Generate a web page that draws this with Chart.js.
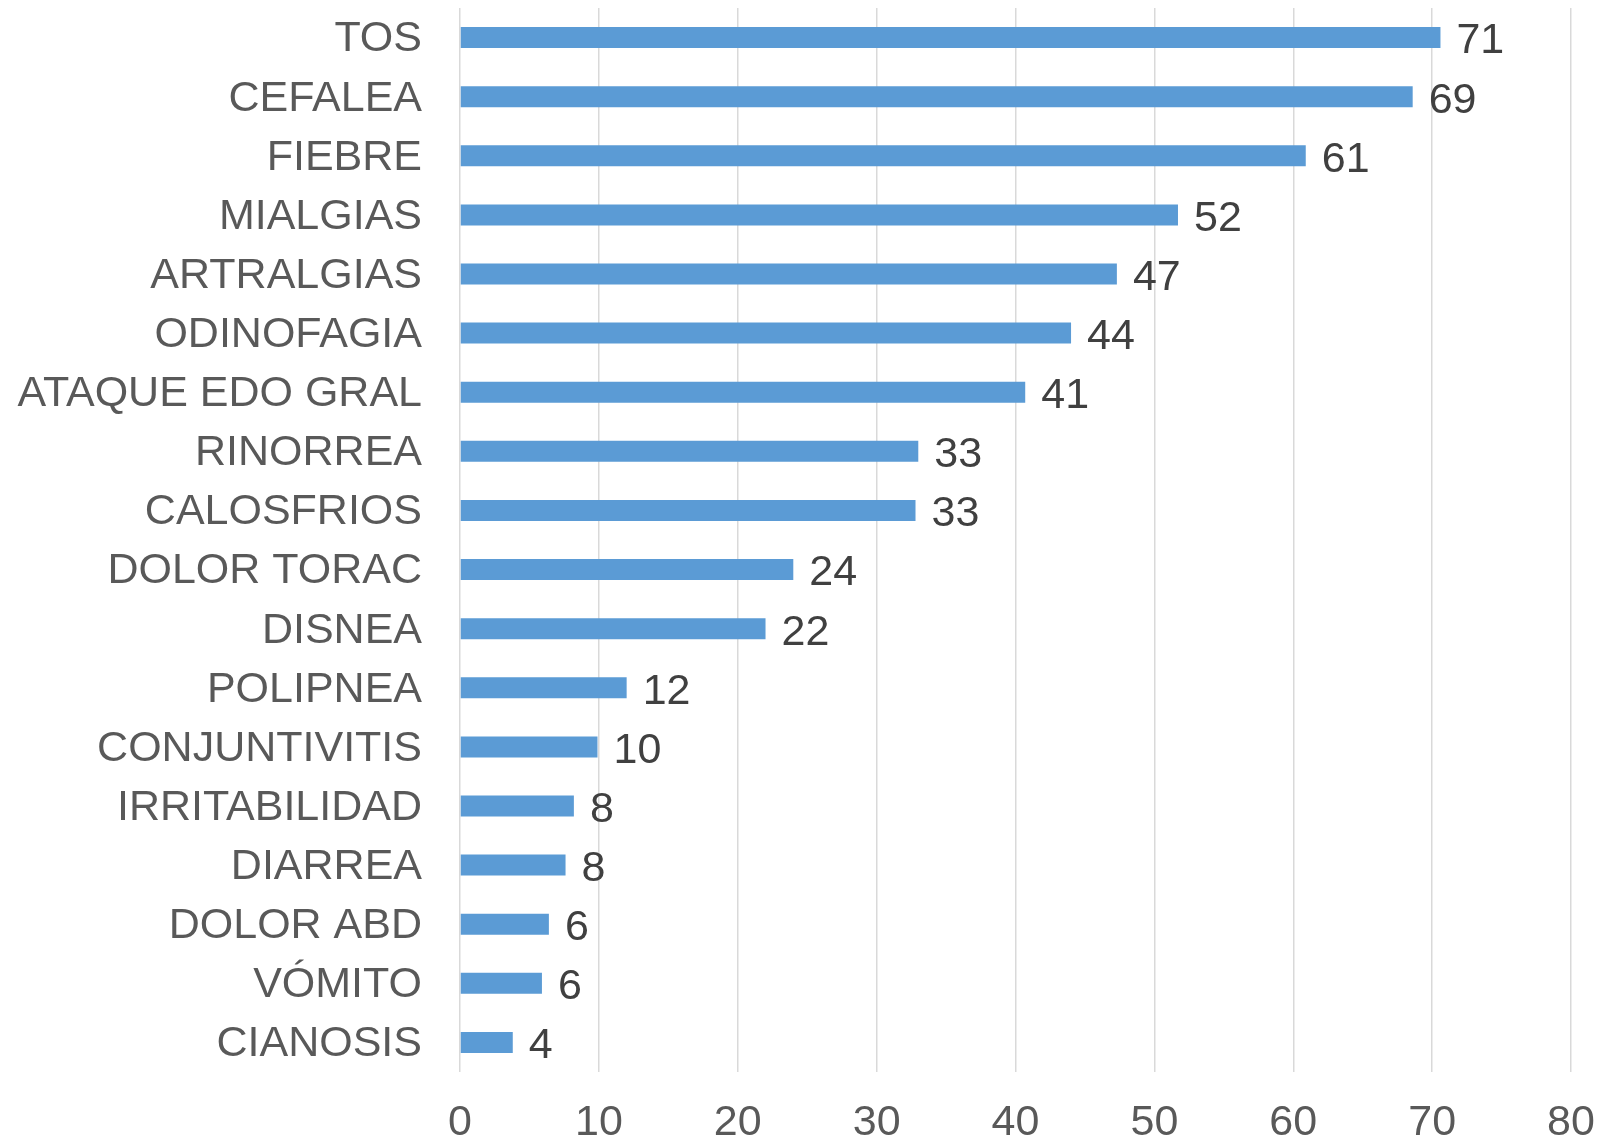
<!DOCTYPE html>
<html>
<head>
<meta charset="utf-8">
<script src="https://cdn.jsdelivr.net/npm/chart.js@4/dist/chart.umd.min.js"></script>
<style>
html,body{margin:0;padding:0;background:#fff;overflow:hidden;}
#wrap{width:1600px;height:1139px;position:relative;}
</style>
</head>
<body>
<div id="wrap"><canvas id="c"></canvas></div>
<script>
const categories = ["TOS","CEFALEA","FIEBRE","MIALGIAS","ARTRALGIAS","ODINOFAGIA","ATAQUE EDO GRAL","RINORREA","CALOSFRIOS","DOLOR TORAC","DISNEA","POLIPNEA","CONJUNTIVITIS","IRRITABILIDAD","DIARREA","DOLOR ABD","VÓMITO","CIANOSIS"];
const values = [70.6,68.6,60.9,51.7,47.3,44.0,40.7,33.0,32.8,24.0,22.0,12.0,9.9,8.2,7.6,6.4,5.9,3.8];
const xTicks = [0,10,20,30,40,50,60,70,80];

const FONT = "'Liberation Sans', Arial, sans-serif";

const valueLabels = {
  id: 'valueLabels',
  afterDatasetsDraw(chart) {
    const ctx = chart.ctx;
    const meta = chart.getDatasetMeta(0);
    ctx.save();
    ctx.font = "43px " + FONT;
    ctx.fillStyle = "#404040";
    ctx.textAlign = "left";
    ctx.textBaseline = "middle";
    meta.data.forEach((bar, i) => {
      ctx.fillText(String(Math.round(values[i])), bar.x + 16, bar.y + 4);
    });
    ctx.restore();
  }
};

new Chart(document.getElementById('c'), {
  type: 'bar',
  data: {
    labels: categories,
    datasets: [{
      data: values,
      backgroundColor: '#5B9BD5',
      borderWidth: 0,
      barPercentage: 0.355,
      categoryPercentage: 1.0
    }]
  },
  options: {
    indexAxis: 'y',
    responsive: true,
    maintainAspectRatio: false,
    animation: false,
    layout: { padding: { left: 0, right: 29, top: 8, bottom: 0 } },
    plugins: { legend: { display: false }, tooltip: { enabled: false } },
    scales: {
      x: {
        min: 0, max: 80,
        afterBuildTicks: s => { s.ticks = xTicks.map(v => ({ value: v })); },
        afterFit: s => { s.height = 67; s.paddingLeft = 0; s.paddingRight = 0; },
        grid: { color: '#d9d9d9', lineWidth: 1.5, drawTicks: false },
        border: { display: false },
        ticks: { padding: 25, color: '#595959', font: { family: FONT, size: 43, lineHeight: 1.2 } }
      },
      y: {
        afterFit: s => { s.width = 460; s.paddingTop = 0; s.paddingBottom = 0; },
        grid: { display: false, drawTicks: false },
        border: { display: false },
        ticks: { padding: 38, labelOffset: 2, color: '#595959', font: { family: FONT, size: 43 } }
      }
    }
  },
  plugins: [valueLabels]
});
</script>
</body>
</html>
